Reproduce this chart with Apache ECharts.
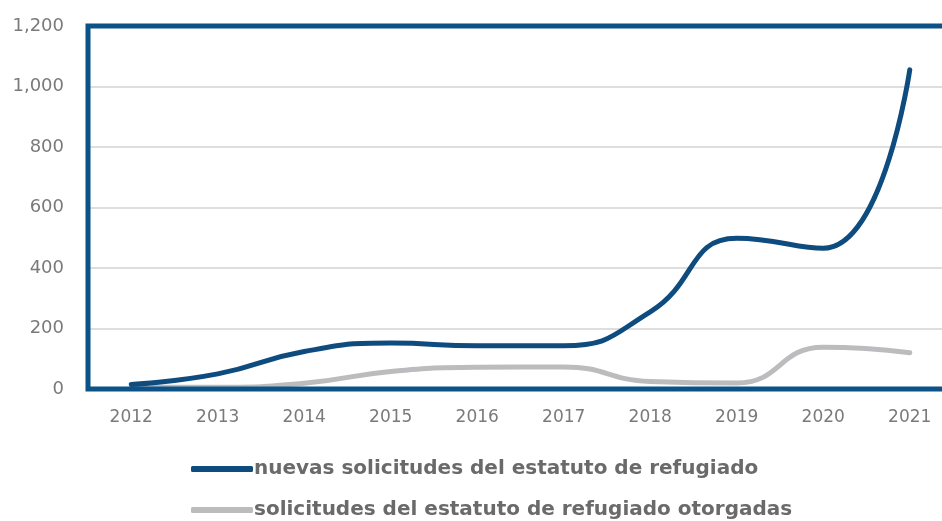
<!DOCTYPE html>
<html><head><meta charset="utf-8">
<script src="https://cdn.jsdelivr.net/npm/echarts@6/dist/echarts.min.js"></script>
<style>html,body{margin:0;padding:0;background:#fff}#c{width:942px;height:521px}</style>
</head><body><div id="c"></div>
<script>
const years = ['2012','2013','2014','2015','2016','2017','2018','2019','2020','2021'];
const nuevas = [15, 50, 124, 152, 143, 143, 255, 498, 465, 1055];
const otorgadas = [6, 6, 19, 58, 72, 73, 25, 20, 138, 120];
const yTicks = {min: 0, max: 1200, interval: 200};
const seriesNames = ['nuevas solicitudes del estatuto de refugiado', 'solicitudes del estatuto de refugiado otorgadas'];

const chart = echarts.init(document.getElementById('c'));
const font = '"DejaVu Sans", sans-serif';
chart.setOption({
  animation: false,
  grid: {left: 88, top: 26, width: 865, height: 363, show: true, z: 10, outerBoundsMode: 'none',
         borderColor: '#0c5286', borderWidth: 5, backgroundColor: 'transparent'},
  xAxis: {
    type: 'category', data: years, boundaryGap: true,
    axisLine: {show: false}, axisTick: {show: false},
    axisLabel: {color: '#7a7a7a', fontSize: 17, fontFamily: font, margin: 20}
  },
  yAxis: {
    type: 'value', min: yTicks.min, max: yTicks.max, interval: yTicks.interval,
    axisLine: {show: false}, axisTick: {show: false},
    splitLine: {lineStyle: {color: '#dedede', width: 2}},
    axisLabel: {color: '#7a7a7a', fontSize: 18, fontFamily: font, margin: 24,
      formatter: v => v.toLocaleString('en-US')}
  },
  legend: {
    orient: 'vertical', left: 186, top: 454, height: 90, itemGap: 21,
    itemWidth: 62, itemHeight: 6, icon: 'roundRect',
    textStyle: {color: '#6a6a6a', fontSize: 20, fontWeight: 'bold', fontFamily: font, padding: [0,0,0,-4]},
    data: seriesNames
  },
  series: [
    {name: seriesNames[1], type: 'line', data: otorgadas, smooth: 0.5, showSymbol: false, z: 2,
     lineStyle: {color: '#bcbcbe', width: 5, cap: 'round'}, itemStyle: {color: '#bcbcbe'}},
    {name: seriesNames[0], type: 'line', data: nuevas, smooth: 0.5, showSymbol: false, z: 3,
     lineStyle: {color: '#0e4c7f', width: 5, cap: 'round'}, itemStyle: {color: '#0e4c7f'}}
  ]
});
</script></body></html>
